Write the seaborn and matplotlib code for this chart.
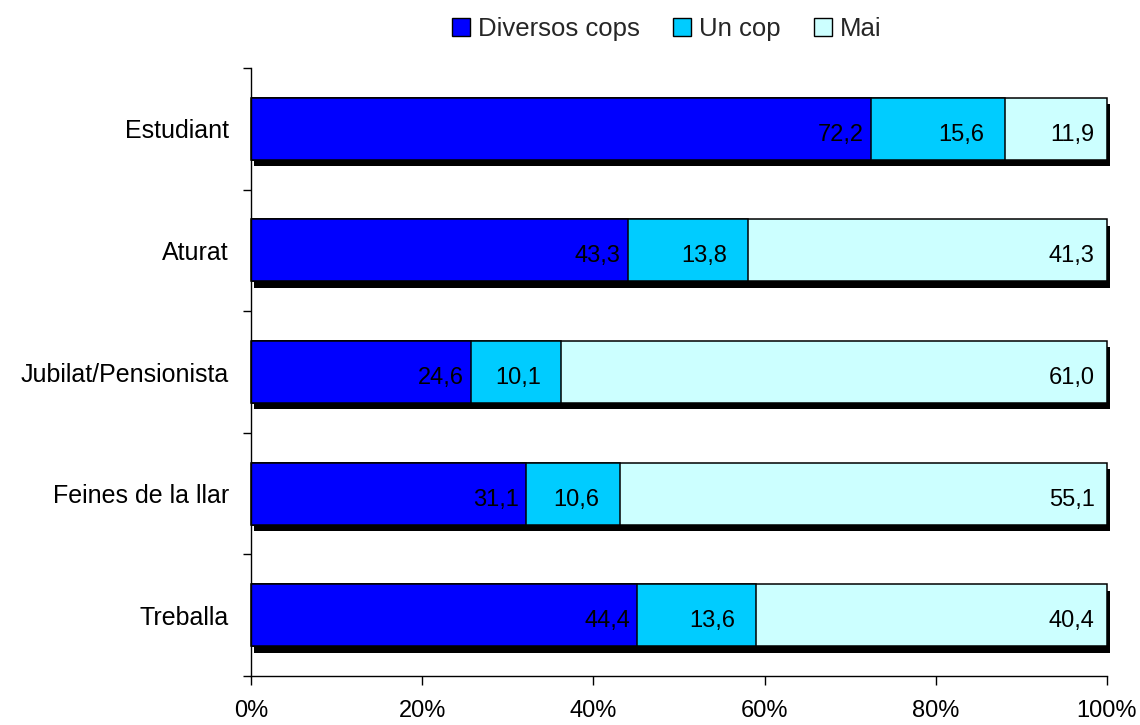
import numpy as np
import pandas as pd
import matplotlib
matplotlib.use("Agg")
import matplotlib.pyplot as plt
import matplotlib.patheffects as pe
from matplotlib.patches import Patch
from matplotlib.ticker import FixedLocator, PercentFormatter
import seaborn as sns

# Survey answers by occupational situation (% of respondents)
categories = ["Estudiant", "Aturat", "Jubilat/Pensionista", "Feines de la llar", "Treballa"]
series_names = ["Diversos cops", "Un cop", "Mai"]
diversos_cops = [72.2, 43.3, 24.6, 31.1, 44.4]
un_cop = [15.6, 13.8, 10.1, 10.6, 13.6]
mai = [11.9, 41.3, 61.0, 55.1, 40.4]
x_ticks = [0, 20, 40, 60, 80, 100]

# Styling
colors = ["#0000FF", "#00CCFF", "#CCFFFF"]
label_dx = [-5, -14.5, -9]  # horizontal offset (points) of each series' value label

sns.set_theme(style="white")
plt.rcParams["font.family"] = ["Liberation Sans", "DejaVu Sans"]

raw = np.array([diversos_cops, un_cop, mai])
shares = raw / raw.sum(axis=0) * 100          # 100% stacked
cum = shares.cumsum(axis=0)

fig = plt.figure(figsize=(11.4, 7.25), dpi=100)
ax = fig.add_axes([251 / 1140, 1 - 676 / 725, (1107 - 251) / 1140, (676 - 68) / 725])

# Stacked bars: draw the cumulative totals from widest to narrowest
for i in [2, 1, 0]:
    df = pd.DataFrame({"cat": categories, "end": cum[i]})
    sns.barplot(data=df, x="end", y="cat", orient="h", color=colors[i],
                saturation=1, edgecolor="black", linewidth=1.1, width=0.51,
                errorbar=None, ax=ax)
    if i == 2:
        for bar in ax.containers[-1]:
            bar.set_clip_on(False)
            bar.set_path_effects([
                pe.SimplePatchShadow(offset=(2.3, -4.6), shadow_rgbFace="black", alpha=1.0),
                pe.Normal(),
            ])

# Value labels, right-aligned inside the end of each segment
for i in range(3):
    for j in range(len(categories)):
        ax.annotate(f"{raw[i, j]:.1f}".replace(".", ","),
                    xy=(cum[i, j], j), xytext=(label_dx[i], -4.3),
                    textcoords="offset points", ha="right", va="center",
                    fontsize=17, color="black")

# Axes
ax.set_xlim(0, 100)
ax.set_ylim(len(categories) - 0.5, -0.5)
ax.set_xlabel("")
ax.set_ylabel("")
ax.set_xticks(x_ticks)
ax.xaxis.set_major_formatter(PercentFormatter(decimals=0))
ax.set_yticks(range(len(categories)))
ax.set_yticklabels(categories)
ax.yaxis.set_minor_locator(FixedLocator(np.arange(-0.5, len(categories), 1)))

ax.tick_params(axis="x", which="major", bottom=True, length=6.5, width=1,
               color="black", direction="out", pad=11, labelsize=17, labelcolor="black")
ax.tick_params(axis="y", which="major", left=True, length=0, pad=16,
               labelsize=18, labelcolor="black")
ax.tick_params(axis="y", which="minor", left=True, length=6, width=1,
               color="black", direction="out")

for side in ["top", "right"]:
    ax.spines[side].set_visible(False)
for side in ["left", "bottom"]:
    ax.spines[side].set_color("black")
    ax.spines[side].set_linewidth(1)

if ax.get_legend() is not None:
    ax.get_legend().remove()

handles = [Patch(facecolor=c, edgecolor="black", linewidth=1, label=n)
           for c, n in zip(colors, series_names)]
fig.legend(handles=handles, loc="center", bbox_to_anchor=(667 / 1140, 1 - 29 / 725),
           ncol=3, frameon=False, fontsize=18.5, handlelength=0.68, handleheight=0.68,
           handletextpad=0.32, columnspacing=1.3, borderpad=0)

fig.savefig("out.png", dpi=100)
